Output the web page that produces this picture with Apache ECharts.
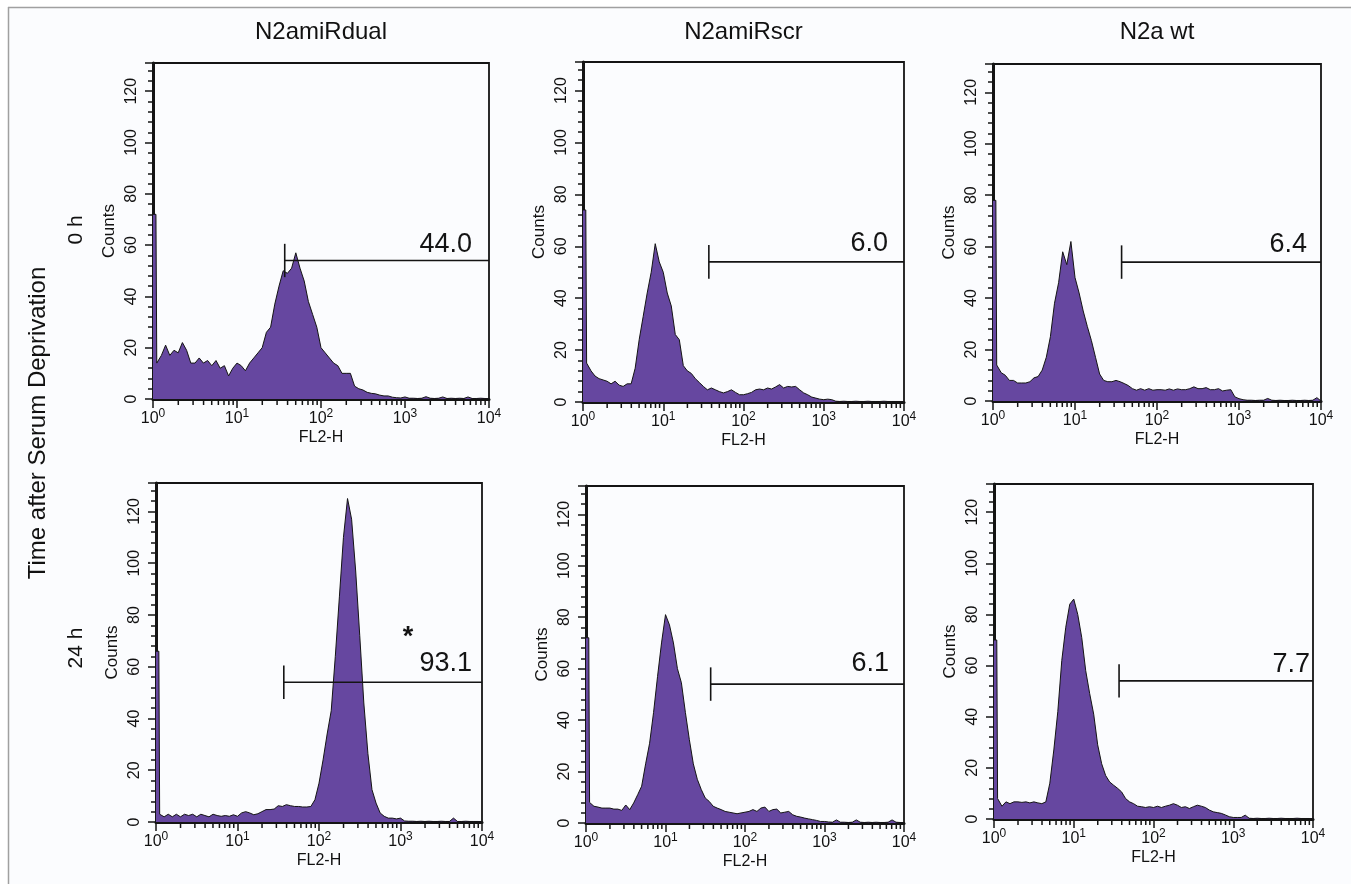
<!DOCTYPE html>
<html>
<head>
<meta charset="utf-8">
<title>FL2-H histograms after serum deprivation</title>
<script src="https://cdn.jsdelivr.net/npm/echarts@6/dist/echarts.min.js"></script>
<style>
  html, body { margin: 0; padding: 0; background: #fff; }
  #chart { width: 1351px; height: 884px; }
</style>
</head>
<body>
<div id="chart"></div>
<script>
// FL2-H channel positions as log10 of the signal, 20 bins per decade (10^0 .. 10^4)
const binPos = Array.from({ length: 81 }, (_, i) => i / 20)

const columns = ['N2amiRdual', 'N2amiRscr', 'N2a wt']
const rows = ['0 h', '24 h']

// counts per bin; the first value is the pile-up in the lowest channel
const dual0h = [72, 14, 17, 21, 17, 19, 18, 22, 19, 14, 14, 16, 14, 15, 13, 15, 12, 13, 9, 12,
  14, 13, 11, 14, 16, 18, 20, 26, 28, 37, 44, 50, 49, 51, 57, 51, 46, 38, 33, 28,
  20, 18, 16, 14, 13, 10, 10, 10, 5, 4, 3.5, 2.6, 2.2, 2, 1.5, 1.2, 1.2, 0.7, 0.5, 0.4,
  0.8, 0.3, 0.3, 0.2, 0.3, 0.9, 0.3, 0.2, 0.3, 0.8, 0.2, 0.3, 0.2, 0.3, 0.2, 0.8, 0.2, 0.2, 0.3, 0.2, 0]
const scr0h = [74, 15, 12, 10, 9, 8.5, 8, 7, 8, 6.5, 6, 7, 7, 13, 24, 33, 42, 50, 61, 54,
  50, 42, 37, 26, 24, 14, 12, 11, 9, 7.5, 6, 4.7, 5.4, 4.7, 4, 3.5, 4, 4.7, 3.7, 2.8,
  2.8, 3.2, 3.7, 4.7, 5, 4.7, 5.4, 5, 5.8, 6.7, 5.4, 6, 5.8, 6, 4.7, 3.5, 2.8, 1.9, 1.5, 1.1,
  0.9, 1.1, 0.9, 0.3, 0.2, 0.3, 0.2, 0.2, 0.3, 0.2, 0.2, 0.3, 0.2, 0.2, 0.2, 0.3, 0.2, 0.2, 0.2, 0.2, 0]
const wt0h = [78, 14, 11, 10, 8, 8, 7, 7, 7, 7.5, 9, 9.5, 12, 17, 25, 38, 46, 58, 53, 62,
  48, 42, 35, 29, 23.5, 17, 10.5, 8, 7.5, 7.5, 8, 7.5, 6.8, 6, 4.8, 4.2, 4.8, 4.2, 4.8, 4.2,
  4.4, 4.4, 4.2, 4.7, 4.2, 4.7, 4.4, 4.4, 4.8, 5.5, 4.8, 4.8, 5.2, 4.4, 4.4, 4.8, 3.9, 4.2, 4.4, 1.6,
  0.9, 0.5, 0.3, 0.3, 0.2, 0.3, 0.3, 1, 0.3, 0.2, 0.3, 0.2, 0.2, 0.3, 0.2, 0.2, 0.3, 0.2, 0.3, 1.3, 0]
const dual24h = [66, 3, 2, 3, 2, 3, 2, 3, 2.5, 3, 2, 3, 2.5, 2, 3, 2.5, 2.2, 2.5, 2.2, 2.8,
  2.2, 3.5, 4, 3.5, 2.8, 3.2, 4, 4.8, 4.8, 5, 6.3, 6, 6.7, 6.3, 6, 6, 5.8, 5.8, 6, 8.6,
  15, 24, 34, 43, 64, 87, 110, 125, 117, 97, 72, 46, 26.5, 12.5, 7.3, 3.5, 2.2, 1.5, 1.5, 1.2,
  1.5, 0.4, 0.3, 0.3, 0.2, 0.3, 0.2, 0.3, 0.2, 0.2, 0.3, 0.2, 0.2, 1.5, 0.2, 0.2, 0.3, 0.2, 0.2, 0.2, 0]
const scr24h = [72, 8, 6.5, 6.2, 5.8, 5.8, 5.8, 5.4, 5.4, 4.9, 7, 5.2, 7.8, 11, 14.3, 23, 31, 43, 57, 70,
  81, 77, 70, 60, 54.5, 43, 32.4, 23, 17, 13, 9.7, 8.4, 6.5, 5.8, 5.2, 4.5, 4.2, 3.9, 3.6, 3.9,
  4.2, 4.5, 5.2, 4.5, 5.8, 6.2, 4.5, 5.2, 5.4, 3.9, 4.2, 4.5, 3.2, 2.6, 2.3, 1.9, 1.6, 1.3, 1, 0.6,
  0.6, 0.4, 0.3, 1.2, 0.3, 0.3, 0.2, 0.3, 1.2, 0.3, 0.2, 0.3, 0.2, 0.3, 0.2, 0.2, 0.3, 1.2, 0.3, 0.2, 0]
const wt24h = [70, 8, 5, 6.7, 6, 6.7, 6.7, 6.5, 6.7, 6.3, 6.7, 6.3, 6, 6.7, 14, 27, 42, 62, 75, 84,
  86, 80, 71, 58, 49, 41, 29, 21.6, 17, 14.5, 13.2, 12, 10.6, 8, 6.7, 6, 5, 4.8, 4.5, 4.8,
  4.5, 5, 4.5, 5, 5.4, 6, 5.4, 4.5, 4.8, 4.1, 4.8, 5.4, 5, 4.5, 3.5, 2.8, 2.5, 2.2, 1.6, 0.9,
  0.6, 0.6, 0.6, 1.5, 0.3, 0.2, 0.3, 0.2, 0.2, 0.3, 0.2, 0.2, 0.3, 0.2, 0.2, 0.2, 0.3, 0.2, 0.2, 0.2, 0]

const gateValues = ['44.0', '6.0', '6.4', '93.1', '6.1', '7.7']
const gateMarks = ['', '', '', '*', '', '']
const gateStart = 37   // FL2-H where the marker starts
const gateLevel = 54   // counts, height of the marker

const histograms = [dual0h, scr0h, wt0h, dual24h, scr24h, wt24h]

// panel frames in pixels
const panels = [
  { left: 153, top: 63, width: 336, height: 336 },
  { left: 583, top: 62, width: 321, height: 340 },
  { left: 993, top: 64, width: 328, height: 337 },
  { left: 156, top: 483, width: 326, height: 339 },
  { left: 586, top: 486, width: 318, height: 337 },
  { left: 994, top: 484, width: 319, height: 335 }
]
const labelDx = [-17, -16, -14, -10, -15, -3]
const labelDy = [-2, -5, -4, -5, -7, -3]

const font = '"Liberation Sans", Arial, Helvetica, sans-serif'
const ink = '#141414'
const textInk = '#111'
const fill = '#6647a0'
const capHalf = 6.5

const minorPos = []
for (let d = 0; d < 4; d++) {
  for (let k = 2; k <= 9; k++) minorPos.push(d + Math.log10(k))
}

const toPoints = counts => {
  const pts = counts.map((c, i) => [binPos[i], c])
  // keep the lowest channel a thin spike along the axis
  pts.splice(1, 0, [0.035, counts[0]], [0.045, counts[1]])
  return pts
}

const grid = []
const xAxis = []
const yAxis = []
const series = []

panels.forEach((p, i) => {
  grid.push({
    left: p.left, top: p.top, width: p.width, height: p.height,
    show: true, borderColor: ink, borderWidth: 1.8, backgroundColor: 'transparent',
    containLabel: false, outerBoundsMode: 'none'
  })
  xAxis.push({
    gridIndex: i,
    type: 'value',
    min: 0,
    max: 4,
    interval: 1,
    axisLine: { show: true, onZero: false, lineStyle: { color: ink, width: 3 } },
    axisTick: { show: true, length: 9, lineStyle: { color: ink, width: 1.5 } },
    splitLine: { show: false },
    axisLabel: {
      margin: 9,
      color: textInk,
      formatter: v => '{b|10}{s|' + v + '}',
      rich: {
        b: { fontSize: 16, fontFamily: font, color: textInk },
        s: { fontSize: 12, fontFamily: font, color: textInk, padding: [0, 0, 9, 0] }
      }
    },
    name: 'FL2-H',
    nameLocation: 'middle',
    nameGap: 31,
    nameTextStyle: { fontSize: 16, fontFamily: font, color: textInk }
  })
  yAxis.push({
    gridIndex: i,
    type: 'value',
    min: 0,
    max: 131,
    interval: 20,
    axisLine: { show: true, lineStyle: { color: ink, width: 3 } },
    axisTick: { show: true, length: 8, lineStyle: { color: ink, width: 1.5 } },
    minorTick: { show: true, splitNumber: 5, length: 5, lineStyle: { color: ink, width: 1.5 } },
    splitLine: { show: false },
    minorSplitLine: { show: false },
    axisLabel: {
      rotate: 90, margin: 13, fontSize: 16, fontFamily: font, color: textInk,
      showMaxLabel: false
    },
    name: 'Counts',
    nameLocation: 'middle',
    nameRotate: 90,
    nameGap: 35,
    nameTextStyle: { fontSize: 17, fontFamily: font, color: textInk }
  })

  series.push({
    type: 'line',
    xAxisIndex: i,
    yAxisIndex: i,
    data: toPoints(histograms[i]),
    symbol: 'none',
    lineStyle: { color: ink, width: 1 },
    areaStyle: { color: fill, opacity: 1 },
    silent: true,
    z: 2
  })
  series.push({
    type: 'custom',
    xAxisIndex: i,
    yAxisIndex: i,
    data: minorPos.map(v => [v, 0]),
    clip: false,
    silent: true,
    z: 3,
    renderItem: (params, api) => {
      const c = api.coord([api.value(0), 0])
      return {
        type: 'line',
        shape: { x1: c[0], y1: c[1], x2: c[0], y2: c[1] + 6 },
        style: { stroke: ink, lineWidth: 1.5 }
      }
    }
  })
  series.push({
    type: 'custom',
    xAxisIndex: i,
    yAxisIndex: i,
    data: [[Math.log10(gateStart), gateLevel]],
    clip: false,
    silent: true,
    z: 4,
    renderItem: (params, api) => {
      const x0 = api.value(0)
      const lv = api.value(1)
      const s = api.coord([x0, lv])
      const e = api.coord([4, lv])
      const ct = api.coord([x0, lv + capHalf])
      const cb = api.coord([x0, lv - capHalf])
      const line = { stroke: ink, lineWidth: 1.6 }
      const children = [
        { type: 'line', shape: { x1: s[0], y1: s[1], x2: e[0], y2: e[1] }, style: line },
        { type: 'line', shape: { x1: s[0], y1: ct[1], x2: s[0], y2: cb[1] }, style: line },
        {
          type: 'text',
          x: e[0] + labelDx[i],
          y: e[1] + labelDy[i],
          style: {
            text: gateValues[i], fill: ink, font: '27px ' + font,
            align: 'right', verticalAlign: 'bottom'
          }
        }
      ]
      if (gateMarks[i]) {
        children.push({
          type: 'text',
          x: e[0] - 74,
          y: e[1] - 45,
          style: {
            text: gateMarks[i], fill: ink, font: 'bold 27px ' + font,
            align: 'center', verticalAlign: 'middle'
          }
        })
      }
      return { type: 'group', children }
    }
  })
})

const graphic = [
  { type: 'rect', shape: { x: 0, y: 0, width: 1351, height: 7 }, style: { fill: '#fff' }, silent: true },
  { type: 'rect', shape: { x: 0, y: 0, width: 8, height: 884 }, style: { fill: '#fff' }, silent: true },
  { type: 'line', shape: { x1: 8, y1: 7.5, x2: 1351, y2: 7.5 }, style: { stroke: '#a0a0a0', lineWidth: 1.5 }, silent: true },
  { type: 'line', shape: { x1: 8.5, y1: 7, x2: 8.5, y2: 884 }, style: { stroke: '#a0a0a0', lineWidth: 1.5 }, silent: true }
]
columns.forEach((name, c) => {
  const p = panels[c]
  graphic.push({
    type: 'text', x: p.left + p.width / 2, y: 32, silent: true,
    style: { text: name, font: '24px ' + font, fill: textInk, align: 'center', verticalAlign: 'middle' }
  })
})
const rowCenters = [230, 648]
rows.forEach((name, r) => {
  graphic.push({
    type: 'text', x: 76, y: rowCenters[r], rotation: Math.PI / 2, silent: true,
    style: { text: name, font: '21px ' + font, fill: textInk, align: 'center', verticalAlign: 'middle' }
  })
})
graphic.push({
  type: 'text', x: 38, y: 423, rotation: Math.PI / 2, silent: true,
  style: { text: 'Time after Serum Deprivation', font: '24px ' + font, fill: textInk, align: 'center', verticalAlign: 'middle' }
})

const chart = echarts.init(document.getElementById('chart'), null, { renderer: 'canvas' })
chart.setOption({
  animation: false,
  backgroundColor: '#fbfcfe',
  textStyle: { fontFamily: font },
  grid,
  xAxis,
  yAxis,
  series,
  graphic
})
</script>
</body>
</html>
